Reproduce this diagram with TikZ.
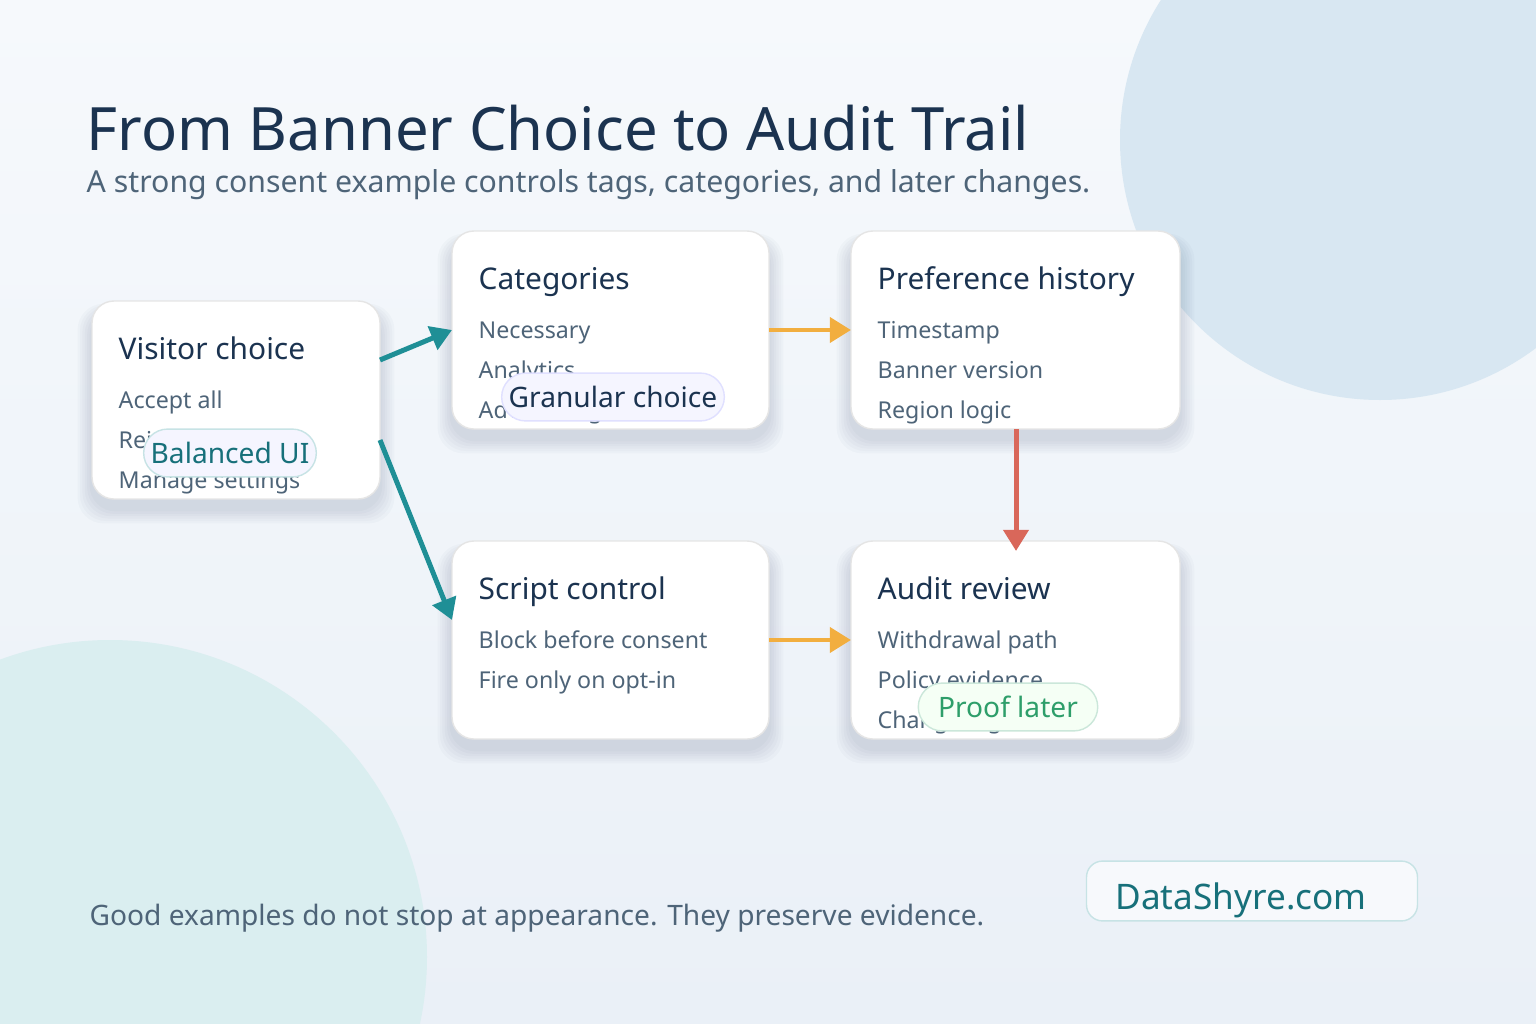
\documentclass[tikz,border=0pt]{standalone}
\usepackage{fontspec}
\setmainfont{Noto Sans}
\usetikzlibrary{positioning,arrows.meta}
\definecolor{navy}{HTML}{1B3350}
\definecolor{slate}{HTML}{4E6478}
\definecolor{teal}{HTML}{1F8F96}
\definecolor{tealtxt}{HTML}{17707A}
\definecolor{orng}{HTML}{F2AE3F}
\definecolor{redd}{HTML}{D9675A}
\definecolor{grn}{HTML}{2E9E6A}
\definecolor{bgtop}{HTML}{F6F9FC}
\definecolor{bgbot}{HTML}{EAF0F7}
\definecolor{blobA}{HTML}{D8E7F2}
\definecolor{blobB}{HTML}{DAEEF0}
\tikzset{
  card/.style={draw=black!10, fill=white, rounded corners=22*0.2835pt},
  shade card/.style={fill=navy, fill opacity=0.025, rounded corners=26*0.2835pt},
  head/.style={anchor=base west, inner sep=0pt, text=navy, font=\fontsize{8.5}{10}\selectfont},
  item/.style={anchor=base west, inner sep=0pt, text=slate, font=\fontsize{6.6}{8}\selectfont},
  pill/.style={rounded corners=24*0.2835pt, minimum height=48*0.2835pt, inner xsep=2pt, font=\fontsize{8}{9}\selectfont},
  link/.style={line width=5*0.2835pt, -{Triangle[length=6pt,width=7pt]}}
}
\newcommand{\cardat}[2]{%
  \foreach \s in {4,8,...,24} {\fill[shade card] ($#1+(-\s*0.6,-\s*0.3+10)$) rectangle ($#2+(\s*0.6,\s*0.6+10)$);}
  \draw[card] #1 rectangle #2;}
\usetikzlibrary{calc}
\begin{document}
\begin{tikzpicture}[x=0.01cm,y=-0.01cm]
  \useasboundingbox (0,0) rectangle (1536,1024);
  \begin{scope}
    \clip (0,0) rectangle (1536,1024);
    \shade[top color=bgtop, bottom color=bgbot] (0,0) rectangle (1536,1024);
    \fill[blobA] (1380,140) circle (260);
    \fill[blobB] (110,957) circle (317);
  \end{scope}

  \node[anchor=base west, inner sep=0pt, text=navy, font=\fontsize{17}{20}\selectfont] (title) at (86,150) {From Banner Choice to Audit Trail};
  \node[anchor=base west, inner sep=0pt, text=slate, font=\fontsize{8.6}{10}\selectfont] (sub) at (86,192) {A strong consent example controls tags, categories, and later changes.};

  % cards
  \cardat{(92,301)}{(380,499)}
  \cardat{(452,231)}{(769,429)}
  \cardat{(851,231)}{(1180,429)}
  \cardat{(452,541)}{(769,739)}
  \cardat{(851,541)}{(1180,739)}
  \coordinate (vis) at (92,301);
  \coordinate (cat) at (452,231);
  \coordinate (pref) at (851,231);
  \coordinate (scr) at (452,541);
  \coordinate (aud) at (851,541);

  \node[head] at ([shift={(26,58)}]vis) {Visitor choice};
  \node[item] at ([shift={(26,107)}]vis) {Accept all};
  \node[item] at ([shift={(26,147)}]vis) {Reject all};
  \node[item] at ([shift={(26,187)}]vis) {Manage settings};

  \node[head] at ([shift={(26,58)}]cat) {Categories};
  \node[item] at ([shift={(26,107)}]cat) {Necessary};
  \node[item] at ([shift={(26,147)}]cat) {Analytics};
  \node[item] at ([shift={(26,187)}]cat) {Advertising};

  \node[head] at ([shift={(26,58)}]pref) {Preference history};
  \node[item] at ([shift={(26,107)}]pref) {Timestamp};
  \node[item] at ([shift={(26,147)}]pref) {Banner version};
  \node[item] at ([shift={(26,187)}]pref) {Region logic};

  \node[head] at ([shift={(26,58)}]scr) {Script control};
  \node[item] at ([shift={(26,107)}]scr) {Block before consent};
  \node[item] at ([shift={(26,147)}]scr) {Fire only on opt-in};

  \node[head] at ([shift={(26,58)}]aud) {Audit review};
  \node[item] at ([shift={(26,107)}]aud) {Withdrawal path};
  \node[item] at ([shift={(26,147)}]aud) {Policy evidence};
  \node[item] at ([shift={(26,187)}]aud) {Change log};

  % tags
  \node[pill, draw=teal!25, fill=blue!4!white, text=tealtxt, minimum width=170*0.2835pt] (bal) at (230,453) {Balanced UI};
  \node[pill, draw=blue!12, fill=blue!4!white, text=navy, minimum width=186*0.2835pt] (gran) at (613,397) {Granular choice};
  \node[pill, draw=grn!25, fill=green!4!white, text=grn, minimum width=180*0.2835pt] (proof) at (1008,707) {Proof later};

  % links
  \coordinate (a1) at (380,360); \coordinate (a2) at (452,330);
  \coordinate (b1) at (380,440); \coordinate (b2) at (452,620);
  \coordinate (c1) at (769,330); \coordinate (c2) at (851,330);
  \coordinate (d1) at (769,640); \coordinate (d2) at (851,640);
  \coordinate (e1) at (1016,429); \coordinate (e2) at (1016,551);
  \draw[link, teal] (a1) -- (a2);
  \draw[link, teal] (b1) -- (b2);
  \draw[link, orng] (c1) -- (c2);
  \draw[link, orng] (d1) -- (d2);
  \draw[link, redd] (e1) -- (e2);

  \node[anchor=base west, inner sep=0pt, text=slate, font=\fontsize{8}{9}\selectfont] (foot) at (89,925) {Good examples do not stop at appearance. They preserve evidence.};
  \node[draw=teal!25, fill=white, fill opacity=0.6, rounded corners=16*0.2835pt, minimum width=332*0.2835pt, minimum height=60*0.2835pt] (brand) at (1252,891) {};
  \node[text=tealtxt, font=\fontsize{10}{12}\selectfont] at (1241,900) {DataShyre.com};
\end{tikzpicture}
\end{document}
